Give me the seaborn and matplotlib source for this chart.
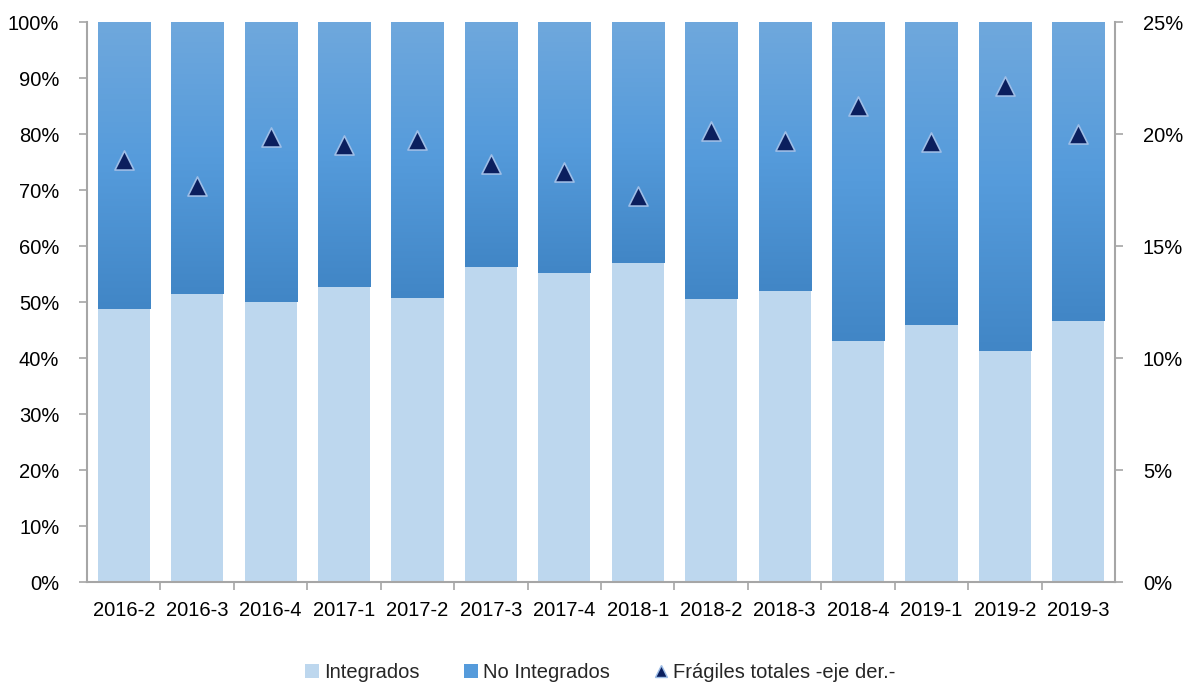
import numpy as np
import pandas as pd
import seaborn as sns
import matplotlib.pyplot as plt
from matplotlib.colors import LinearSegmentedColormap
from matplotlib.lines import Line2D
from matplotlib.patches import Patch
from matplotlib.ticker import FixedLocator

sns.set_style("white")
plt.rcParams['font.family'] = ['Liberation Sans', 'DejaVu Sans']

# data
periodos = ['2016-2', '2016-3', '2016-4', '2017-1', '2017-2', '2017-3', '2017-4',
            '2018-1', '2018-2', '2018-3', '2018-4', '2019-1', '2019-2', '2019-3']
integrados = [48.8, 51.4, 50.0, 52.7, 50.7, 56.3, 55.2, 57.0, 50.5, 52.0, 43.0, 45.9, 41.3, 46.6]
no_integrados = [100 - v for v in integrados]
fragiles = [18.85, 17.7, 19.85, 19.5, 19.75, 18.65, 18.3, 17.25, 20.15, 19.7, 21.25, 19.65, 22.15, 20.0]

df = pd.DataFrame({'periodo': periodos, 'integrados': integrados,
                   'no_integrados': no_integrados, 'fragiles': fragiles})

c_light = '#bdd7ee'
c_mid = '#559bdb'
grad = LinearSegmentedColormap.from_list('g', ['#4186c6', '#559bdb', '#6fa8dd'])
axis_gray = '#a6a6a6'
fs = 14.5

fig = plt.figure(figsize=(11.89, 6.84), dpi=100)
ax = fig.add_axes([0.0732, 0.1491, 0.8646, 0.8187])

# stacked bars: full height first (No Integrados on top), then Integrados
sns.barplot(data=df, x='periodo', y=[100] * len(df), color=c_mid, width=0.71,
            saturation=1, linewidth=0, ax=ax, zorder=2)
top_patches = list(ax.patches)
sns.barplot(data=df, x='periodo', y='integrados', color=c_light, width=0.71,
            saturation=1, linewidth=0, ax=ax, zorder=3)

# gradient fill for the No Integrados part
g = np.linspace(0, 1, 256).reshape(-1, 1)
for p, v in zip(top_patches, integrados):
    x0 = p.get_x()
    w = p.get_width()
    im = ax.imshow(g, cmap=grad, aspect='auto', origin='lower',
                   extent=[x0, x0 + w, v, 100], zorder=2.5)
    im.set_clip_path(p)

ax.set_xlim(-0.5, len(periodos) - 0.5)
ax.set_ylim(0, 100)
ax.set_yticks(np.arange(0, 101, 10))
ax.set_yticklabels([f'{t}%' for t in range(0, 101, 10)])
ax.set_xlabel('')
ax.set_ylabel('')
# tick marks between categories on the bottom axis
ax.xaxis.set_minor_locator(FixedLocator(np.arange(0.5, len(periodos) - 1, 1)))

# right axis for Frágiles
ax2 = ax.twinx()
sns.scatterplot(data=df, x='periodo', y='fragiles', marker='^', s=190,
                color='#0b1f5e', edgecolor='#9dbde6', linewidth=1.2, ax=ax2, zorder=5)
ax2.set_ylim(0, 25)
ax2.set_yticks(np.arange(0, 26, 5))
ax2.set_yticklabels([f'{t}%' for t in range(0, 26, 5)])
ax2.set_ylabel('')
ax2.set_xlim(-0.5, len(periodos) - 0.5)

for a in (ax, ax2):
    for s in a.spines.values():
        s.set_visible(False)
    a.tick_params(axis='both', labelsize=fs, colors='black')
for a, side in ((ax, 'left'), (ax, 'bottom'), (ax2, 'right')):
    a.spines[side].set_visible(True)
    a.spines[side].set_color(axis_gray)
    a.spines[side].set_linewidth(1.5)
    a.spines[side].set_zorder(10)

ax.tick_params(axis='y', length=6, width=1.2, color=axis_gray, pad=14)
ax.tick_params(axis='x', which='major', length=0, pad=14)
ax.tick_params(axis='x', which='minor', bottom=True, length=6, width=1.2,
               color=axis_gray)
ax2.tick_params(axis='y', length=6, width=1.2, color=axis_gray, pad=14)

# legend
handles = [Patch(facecolor=c_light, edgecolor='none'),
           Patch(facecolor=c_mid, edgecolor='none'),
           Line2D([], [], marker='^', linestyle='none', color='#0b1f5e',
                  markeredgecolor='#9dbde6', markersize=8)]
labels = ['Integrados', 'No Integrados', 'Frágiles totales -eje der.-']
fig.legend(handles, labels, loc='center', bbox_to_anchor=(0.505, 0.017), ncol=3,
           frameon=False, fontsize=fs, handlelength=0.7, handleheight=0.7,
           handletextpad=0.25, columnspacing=2.2)

fig.savefig('out.png', dpi=100)
